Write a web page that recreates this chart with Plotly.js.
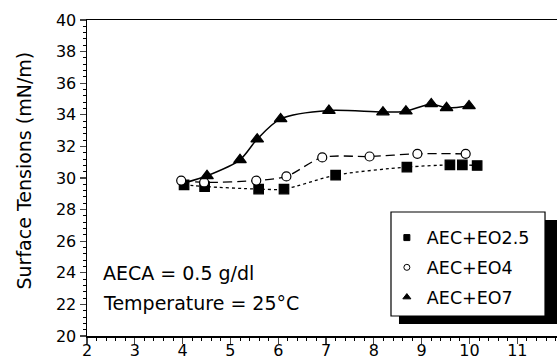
<!DOCTYPE html>
<html>
<head>
<meta charset="utf-8">
<script src="https://cdn.plot.ly/plotly-3.0.1.min.js"></script>
<style>html,body{margin:0;padding:0;background:#fff;}#chart{width:557px;height:356px;}</style>
</head>
<body>
<div id="chart"></div>
<script>
// Series
const eo25X = [4.03, 4.46, 5.59, 6.12, 7.20, 8.69, 9.59, 9.85, 10.16];
const eo25Y = [29.57, 29.46, 29.30, 29.30, 30.18, 30.69, 30.83, 30.83, 30.79];
const eo4X = [3.97, 4.45, 5.54, 6.17, 6.92, 7.91, 8.91, 9.92];
const eo4Y = [29.84, 29.72, 29.84, 30.10, 31.30, 31.36, 31.53, 31.53];
// first EO7 point is the hidden start of the curve (no visible marker)
const eo7X = [4.05, 4.51, 5.20, 5.56, 6.05, 7.06, 8.19, 8.67, 9.20, 9.52, 9.99];
const eo7Y = [29.70, 30.14, 31.15, 32.46, 33.74, 34.27, 34.17, 34.23, 34.69, 34.44, 34.56];
const seriesNames = ["AEC+EO2.5", "AEC+EO4", "AEC+EO7"];
const xTickVals = [2, 3, 4, 5, 6, 7, 8, 9, 10, 11];
const yTickVals = [20, 22, 24, 26, 28, 30, 32, 34, 36, 38, 40];
const noteLines = ["AECA = 0.5 g/dl", "Temperature = 25°C"];
const yTitle = "Surface Tensions (mN/m)";

const FONT = "DejaVu Sans, Liberation Sans, Arial, sans-serif";

function lineTrace(x, y, dash, width) {
  return {x: x, y: y, type: "scatter", mode: "lines", showlegend: false, hoverinfo: "skip",
    line: {color: "#000", width: width, dash: dash, shape: "spline", smoothing: 0.8}};
}
function markTrace(x, y, symbol, size, fill) {
  return {x: x, y: y, type: "scatter", mode: "markers", showlegend: false,
    marker: {symbol: symbol, size: size, color: fill, opacity: 1, line: {color: "#000000", width: 1.2}}};
}
function legendTrace(name, symbol, size, fill, group) {
  return {x: [null], y: [null], type: "scatter", mode: "markers", name: name, legendgroup: group,
    marker: {symbol: symbol, size: size, color: fill, opacity: 1, line: {color: "#000000", width: 1}}};
}

const data = [
  lineTrace(eo7X, eo7Y, "solid", 1.5),
  lineTrace(eo4X, eo4Y, "9px,5px", 1.3),
  lineTrace(eo25X, eo25Y, "dot", 1.3),
  markTrace(eo25X, eo25Y, "square", 9.5, "#000000"),
  markTrace(eo4X, eo4Y, "circle", 9, "#ffffff"),
  markTrace(eo7X.slice(1), eo7Y.slice(1), "triangle-up", 11, "#000000"),
  legendTrace(seriesNames[0], "square", 6, "#000000", "a"),
  legendTrace(seriesNames[1], "circle", 6, "#ffffff", "b"),
  legendTrace(seriesNames[2], "triangle-up", 7, "#000000", "c")
];

const layout = {
  width: 557, height: 356,
  margin: {l: 87, r: 0, t: 20, b: 20, pad: 0},
  paper_bgcolor: "#fff", plot_bgcolor: "#fff",
  font: {family: FONT, size: 16, color: "#000"},
  showlegend: true,
  legend: {x: 0.638, y: 0.368, xanchor: "left", yanchor: "top", bgcolor: "rgba(0,0,0,0)",
    borderwidth: 0, font: {family: FONT, size: 17.5, color: "#000"},
    traceorder: "grouped", tracegroupgap: 4, itemsizing: "trace"},
  xaxis: {range: [2, 11.83], tickvals: xTickVals, ticks: "outside", ticklen: 6, tickwidth: 1.2,
    ticklabelstandoff: -7,
    showline: true, linewidth: 1.5, linecolor: "#000", mirror: true, showgrid: false, zeroline: false,
    tickfont: {family: FONT, size: 16},
    minor: {dtick: 0.2, ticks: "outside", ticklen: 3, tickwidth: 1, tickcolor: "#000", showgrid: false}},
  yaxis: {range: [20, 40], tickvals: yTickVals, ticks: "outside", ticklen: 6, tickwidth: 1.2,
    showline: true, linewidth: 1.5, linecolor: "#000", mirror: false, showgrid: false, zeroline: false,
    tickfont: {family: FONT, size: 16},
    minor: {dtick: 0.4, ticks: "outside", ticklen: 3, tickwidth: 1, tickcolor: "#000", showgrid: false}},
  shapes: [
    {type: "rect", xref: "paper", yref: "paper", x0: 0.6638, x1: 1.0, y0: 0.038, y1: 0.367,
      fillcolor: "#000", line: {width: 0}, layer: "below"},
    {type: "rect", xref: "paper", yref: "paper", x0: 0.6468, x1: 0.9745, y0: 0.0633, y1: 0.3924,
      fillcolor: "#fff", line: {color: "#000", width: 1.2}, layer: "below"}
  ],
  annotations: [
    {xref: "paper", yref: "paper", x: 0.030, y: (336 - 273) / 316, xanchor: "left", yanchor: "middle",
      text: noteLines[0], showarrow: false, font: {family: FONT, size: 19, color: "#000"}},
    {xref: "paper", yref: "paper", x: 0.030, y: (336 - 303) / 316, xanchor: "left", yanchor: "middle",
      text: noteLines[1], showarrow: false, font: {family: FONT, size: 19, color: "#000"}},
    {xref: "paper", yref: "paper", x: (23 - 87) / 470, y: (336 - 170.5) / 316, xanchor: "center", yanchor: "middle",
      text: yTitle, textangle: -90, showarrow: false, font: {family: FONT, size: 19, color: "#000"}}
  ]
};

Plotly.newPlot("chart", data, layout, {displayModeBar: false, staticPlot: true});
</script>
</body>
</html>
